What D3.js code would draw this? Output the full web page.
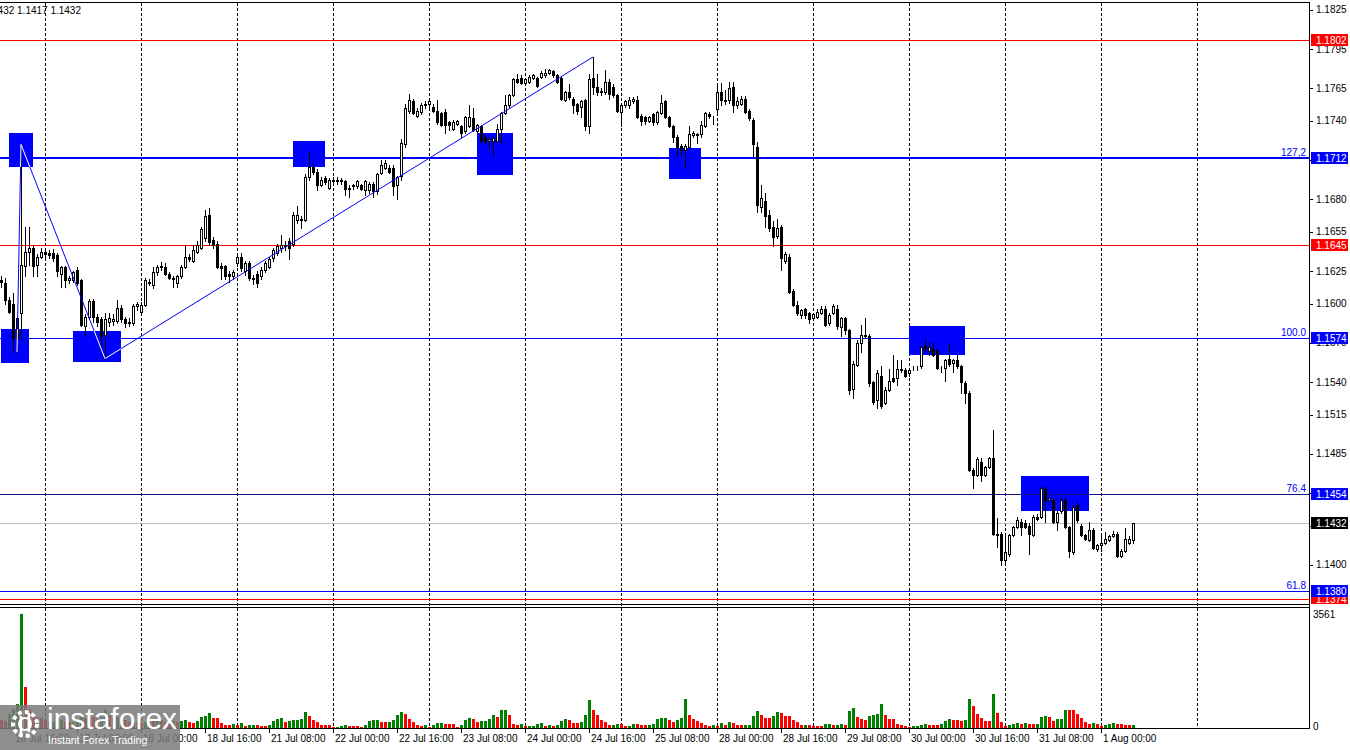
<!DOCTYPE html>
<html><head><meta charset="utf-8">
<script src="https://cdn.jsdelivr.net/npm/d3@7/dist/d3.min.js"></script>
<style>
html,body{margin:0;padding:0;background:#fff;}
svg{display:block;font-family:"Liberation Sans Narrow","Liberation Sans",Arial,sans-serif;}
</style></head><body>
<svg id="chart" width="1350" height="750"></svg>
<script>
// ---------- DATA ----------
// H1 sessions shown; the first session starts at 13:00
const sessionDays = ["16 Jul","17 Jul","18 Jul","21 Jul","22 Jul","23 Jul","24 Jul","25 Jul","28 Jul","29 Jul","30 Jul","31 Jul","1 Aug","4 Aug"];
const firstHour = 13;
// candles: [open, high, low, close, tick volume]
const jul16 = [
[1.1618,1.1621,1.1613,1.1617,250],[1.1616,1.1620,1.1600,1.1603,230],[1.1603,1.1605,1.1593,1.1594,450],
[1.1600,1.1608,1.1563,1.1574,600],[1.1589,1.1590,1.1563,1.1574,750],[1.1593,1.1722,1.1572,1.1630,3561],
[1.1629,1.1659,1.1621,1.1640,1290],[1.1640,1.1659,1.1630,1.1643,600],[1.1643,1.1645,1.1621,1.1629,450],
[1.1630,1.1638,1.1621,1.1636,350],[1.1636,1.1643,1.1635,1.1640,300]];
const jul17 = [
[1.1640,1.1643,1.1636,1.1638,250],[1.1639,1.1641,1.1635,1.1637,180],[1.1639,1.1642,1.1633,1.1635,200],
[1.1637,1.1639,1.1621,1.1625,230],[1.1623,1.1629,1.1613,1.1628,260],[1.1628,1.1629,1.1613,1.1618,200],
[1.1618,1.1621,1.1616,1.1620,180],[1.1618,1.1625,1.1617,1.1624,200],[1.1626,1.1628,1.1614,1.1616,250],
[1.1618,1.1619,1.1583,1.1584,420],[1.1583,1.1592,1.1575,1.1590,300],[1.1590,1.1604,1.1588,1.1602,350],
[1.1602,1.1604,1.1586,1.1590,330],[1.1590,1.1592,1.1583,1.1586,280],[1.1588,1.1590,1.1565,1.1575,350],
[1.1576,1.1593,1.1558,1.1588,560],[1.1586,1.1593,1.1583,1.1589,400],[1.1587,1.1592,1.1584,1.1588,300],
[1.1587,1.1603,1.1585,1.1597,350],[1.1597,1.1599,1.1586,1.1588,300],[1.1588,1.1590,1.1582,1.1585,250],
[1.1585,1.1589,1.1583,1.1586,200],[1.1585,1.1600,1.1584,1.1598,230],[1.1598,1.1601,1.1595,1.1600,180]];
const jul18 = [
[1.1594,1.1601,1.1593,1.1599,150],[1.1599,1.1620,1.1598,1.1618,200],[1.1617,1.1619,1.1614,1.1616,250],
[1.1614,1.1628,1.1612,1.1624,230],[1.1624,1.1630,1.1622,1.1628,280],[1.1628,1.1632,1.1626,1.1629,250],
[1.1628,1.1631,1.1622,1.1623,200],[1.1623,1.1624,1.1619,1.1620,150],[1.1620,1.1621,1.1613,1.1619,220],
[1.1616,1.1622,1.1613,1.1621,200],[1.1621,1.1630,1.1620,1.1628,230],[1.1628,1.1645,1.1627,1.1636,250],
[1.1636,1.1638,1.1633,1.1634,177],[1.1633,1.1645,1.1632,1.1641,146],[1.1640,1.1648,1.1639,1.1645,229],
[1.1643,1.1659,1.1642,1.1657,333],[1.1650,1.1672,1.1648,1.1667,375],[1.1668,1.1673,1.1645,1.1647,479],
[1.1649,1.1651,1.1643,1.1645,320],[1.1646,1.1648,1.1627,1.1628,300],[1.1629,1.1631,1.1619,1.1627,160],
[1.1629,1.1630,1.1619,1.1621,100],[1.1623,1.1625,1.1617,1.1621,95],[1.1621,1.1626,1.1619,1.1624,110]];
const jul21 = [
[1.1631,1.1638,1.1629,1.1636,80],[1.1636,1.1639,1.1625,1.1627,160],[1.1625,1.1633,1.1622,1.1631,73],
[1.1631,1.1633,1.1618,1.1620,94],[1.1620,1.1622,1.1615,1.1619,96],[1.1623,1.1625,1.1613,1.1616,90],
[1.1621,1.1628,1.1619,1.1626,62],[1.1626,1.1633,1.1624,1.1631,60],[1.1628,1.1636,1.1627,1.1634,94],
[1.1635,1.1643,1.1633,1.1641,229],[1.1639,1.1646,1.1637,1.1644,281],[1.1643,1.1653,1.1640,1.1645,300],
[1.1644,1.1648,1.1641,1.1645,177],[1.1648,1.1650,1.1634,1.1643,229],[1.1646,1.1670,1.1644,1.1668,250],
[1.1664,1.1675,1.1662,1.1668,255],[1.1665,1.1667,1.1658,1.1664,281],[1.1664,1.1699,1.1663,1.1697,500],
[1.1697,1.1717,1.1695,1.1705,364],[1.1705,1.1707,1.1699,1.1701,250],[1.1701,1.1703,1.1687,1.1691,177],
[1.1691,1.1697,1.1690,1.1695,94],[1.1696,1.1698,1.1692,1.1693,90],[1.1689,1.1696,1.1688,1.1695,85]];
const jul22 = [
[1.1695,1.1697,1.1692,1.1694,42],[1.1694,1.1697,1.1692,1.1695,45],[1.1694,1.1696,1.1692,1.1695,73],
[1.1694,1.1695,1.1683,1.1688,94],[1.1688,1.1691,1.1682,1.1689,73],[1.1691,1.1692,1.1688,1.1690,70],
[1.1690,1.1695,1.1689,1.1694,62],[1.1691,1.1692,1.1687,1.1688,16],[1.1687,1.1695,1.1683,1.1694,94],
[1.1687,1.1693,1.1685,1.1692,229],[1.1692,1.1693,1.1682,1.1686,235],[1.1686,1.1700,1.1684,1.1699,250],
[1.1700,1.1710,1.1699,1.1706,198],[1.1704,1.1710,1.1703,1.1708,195],[1.1704,1.1706,1.1700,1.1701,200],
[1.1704,1.1706,1.1683,1.1690,250],[1.1691,1.1698,1.1680,1.1697,406],[1.1698,1.1726,1.1695,1.1723,500],
[1.1722,1.1753,1.1720,1.1750,437],[1.1748,1.1761,1.1746,1.1756,281],[1.1755,1.1757,1.1745,1.1746,177],
[1.1744,1.1750,1.1743,1.1748,94],[1.1747,1.1754,1.1745,1.1752,73],[1.1752,1.1755,1.1750,1.1753,94]];
const jul23 = [
[1.1753,1.1756,1.1751,1.1755,42],[1.1751,1.1753,1.1747,1.1748,94],[1.1748,1.1756,1.1738,1.1739,146],
[1.1746,1.1747,1.1736,1.1737,150],[1.1747,1.1749,1.1731,1.1737,125],[1.1739,1.1740,1.1733,1.1737,120],
[1.1734,1.1741,1.1733,1.1739,115],[1.1738,1.1741,1.1737,1.1740,21],[1.1736,1.1737,1.1728,1.1731,94],
[1.1732,1.1744,1.1731,1.1743,250],[1.1736,1.1752,1.1735,1.1743,312],[1.1742,1.1750,1.1732,1.1733,281],
[1.1732,1.1738,1.1730,1.1737,198],[1.1736,1.1737,1.1724,1.1725,219],[1.1728,1.1729,1.1723,1.1725,225],
[1.1725,1.1727,1.1720,1.1726,281],[1.1725,1.1728,1.1713,1.1727,406],[1.1725,1.1738,1.1724,1.1734,333],
[1.1734,1.1747,1.1722,1.1746,562],[1.1746,1.1760,1.1745,1.1752,565],[1.1752,1.1761,1.1751,1.1760,406],
[1.1760,1.1773,1.1759,1.1772,125],[1.1772,1.1776,1.1769,1.1770,94],[1.1773,1.1775,1.1768,1.1769,125]];
const jul24 = [
[1.1769,1.1773,1.1768,1.1772,62],[1.1770,1.1775,1.1769,1.1774,64],[1.1773,1.1776,1.1772,1.1775,66],
[1.1773,1.1774,1.1766,1.1767,125],[1.1774,1.1778,1.1773,1.1777,156],[1.1775,1.1780,1.1774,1.1777,73],
[1.1777,1.1780,1.1776,1.1779,94],[1.1778,1.1779,1.1774,1.1775,73],[1.1775,1.1776,1.1769,1.1770,94],
[1.1773,1.1774,1.1756,1.1757,219],[1.1756,1.1763,1.1755,1.1762,281],[1.1762,1.1768,1.1757,1.1758,250],
[1.1757,1.1758,1.1746,1.1752,167],[1.1753,1.1754,1.1745,1.1748,160],[1.1751,1.1756,1.1743,1.1755,198],
[1.1756,1.1757,1.1733,1.1736,406],[1.1736,1.1776,1.1731,1.1772,875],[1.1773,1.1789,1.1761,1.1766,562],
[1.1766,1.1776,1.1760,1.1762,406],[1.1763,1.1765,1.1760,1.1762,250],[1.1762,1.1779,1.1761,1.1770,177],
[1.1770,1.1772,1.1757,1.1761,94],[1.1766,1.1768,1.1758,1.1760,96],[1.1760,1.1761,1.1747,1.1748,125]];
const jul25 = [
[1.1747,1.1753,1.1736,1.1752,120],[1.1752,1.1756,1.1751,1.1755,62],[1.1752,1.1758,1.1750,1.1756,73],
[1.1755,1.1758,1.1754,1.1757,125],[1.1756,1.1759,1.1742,1.1743,120],[1.1744,1.1745,1.1737,1.1740,94],
[1.1743,1.1744,1.1738,1.1740,90],[1.1740,1.1744,1.1739,1.1743,94],[1.1745,1.1746,1.1737,1.1739,125],
[1.1739,1.1748,1.1738,1.1747,281],[1.1746,1.1760,1.1745,1.1754,312],[1.1755,1.1756,1.1742,1.1743,315],
[1.1743,1.1744,1.1735,1.1736,250],[1.1736,1.1737,1.1724,1.1728,198],[1.1728,1.1729,1.1713,1.1720,250],
[1.1721,1.1722,1.1713,1.1718,312],[1.1718,1.1722,1.1704,1.1721,906],[1.1720,1.1736,1.1719,1.1730,406],
[1.1729,1.1732,1.1728,1.1731,281],[1.1730,1.1731,1.1723,1.1729,219],[1.1730,1.1740,1.1728,1.1737,146],
[1.1736,1.1747,1.1735,1.1746,94],[1.1745,1.1747,1.1742,1.1744,62],[1.1743,1.1744,1.1738,1.1743,94]];
const jul28 = [
[1.1749,1.1768,1.1747,1.1762,73],[1.1762,1.1769,1.1752,1.1756,146],[1.1756,1.1764,1.1753,1.1755,94],
[1.1756,1.1770,1.1754,1.1765,177],[1.1766,1.1770,1.1747,1.1752,156],[1.1752,1.1758,1.1750,1.1755,94],
[1.1753,1.1759,1.1752,1.1757,90],[1.1757,1.1759,1.1746,1.1747,94],[1.1748,1.1749,1.1741,1.1742,96],
[1.1741,1.1742,1.1713,1.1722,375],[1.1720,1.1724,1.1670,1.1676,531],[1.1674,1.1691,1.1670,1.1681,406],
[1.1679,1.1685,1.1659,1.1667,312],[1.1668,1.1672,1.1656,1.1658,310],[1.1659,1.1663,1.1644,1.1651,375],
[1.1652,1.1665,1.1650,1.1658,489],[1.1659,1.1660,1.1626,1.1635,458],[1.1633,1.1640,1.1631,1.1638,390],
[1.1636,1.1638,1.1608,1.1609,385],[1.1610,1.1611,1.1598,1.1599,250],[1.1599,1.1602,1.1591,1.1593,177],
[1.1591,1.1596,1.1589,1.1595,94],[1.1596,1.1597,1.1589,1.1591,96],[1.1593,1.1594,1.1585,1.1588,94]];
const jul29 = [
[1.1589,1.1593,1.1588,1.1592,70],[1.1590,1.1596,1.1589,1.1594,62],[1.1593,1.1598,1.1592,1.1596,60],
[1.1596,1.1598,1.1583,1.1584,125],[1.1585,1.1593,1.1584,1.1591,130],[1.1593,1.1600,1.1592,1.1598,94],
[1.1596,1.1599,1.1581,1.1583,96],[1.1582,1.1590,1.1575,1.1589,125],[1.1589,1.1590,1.1577,1.1580,94],
[1.1580,1.1581,1.1531,1.1534,531],[1.1535,1.1556,1.1528,1.1554,625],[1.1553,1.1572,1.1552,1.1570,354],
[1.1570,1.1584,1.1563,1.1576,281],[1.1576,1.1589,1.1574,1.1575,250],[1.1575,1.1577,1.1537,1.1539,375],
[1.1540,1.1541,1.1523,1.1525,406],[1.1526,1.1549,1.1520,1.1547,437],[1.1545,1.1552,1.1520,1.1522,750],
[1.1524,1.1536,1.1523,1.1534,406],[1.1534,1.1550,1.1533,1.1541,281],[1.1543,1.1561,1.1540,1.1541,280],
[1.1543,1.1557,1.1538,1.1550,115],[1.1550,1.1557,1.1548,1.1549,94],[1.1549,1.1551,1.1544,1.1545,62]];
const jul30 = [
[1.1547,1.1551,1.1545,1.1549,21],[1.1551,1.1552,1.1549,1.1551,62],[1.1551,1.1552,1.1549,1.1551,64],
[1.1552,1.1568,1.1551,1.1567,94],[1.1568,1.1573,1.1564,1.1565,125],[1.1564,1.1570,1.1561,1.1567,94],
[1.1565,1.1570,1.1560,1.1561,92],[1.1564,1.1566,1.1550,1.1551,90],[1.1551,1.1552,1.1548,1.1551,125],
[1.1551,1.1558,1.1541,1.1557,219],[1.1558,1.1569,1.1552,1.1554,281],[1.1555,1.1558,1.1548,1.1557,250],
[1.1557,1.1561,1.1551,1.1552,248],[1.1552,1.1553,1.1532,1.1540,219],[1.1539,1.1541,1.1524,1.1532,250],
[1.1532,1.1533,1.1472,1.1473,906],[1.1473,1.1474,1.1459,1.1469,687],[1.1469,1.1483,1.1468,1.1481,437],
[1.1479,1.1482,1.1464,1.1469,312],[1.1469,1.1476,1.1468,1.1475,219],[1.1475,1.1483,1.1474,1.1482,215],
[1.1482,1.1503,1.1423,1.1424,1062],[1.1424,1.1436,1.1414,1.1423,469],[1.1424,1.1425,1.1400,1.1404,177]];
const jul31 = [
[1.1404,1.1424,1.1401,1.1410,62],[1.1408,1.1424,1.1407,1.1423,94],[1.1423,1.1430,1.1422,1.1429,115],
[1.1429,1.1437,1.1428,1.1434,146],[1.1433,1.1435,1.1423,1.1429,125],[1.1432,1.1434,1.1428,1.1429,146],
[1.1430,1.1432,1.1408,1.1424,125],[1.1423,1.1438,1.1422,1.1437,120],[1.1437,1.1439,1.1434,1.1435,125],
[1.1437,1.1460,1.1436,1.1459,354],[1.1458,1.1460,1.1433,1.1450,375],[1.1450,1.1451,1.1449,1.1451,333],
[1.1450,1.1451,1.1432,1.1433,219],[1.1433,1.1441,1.1427,1.1440,281],[1.1441,1.1451,1.1440,1.1450,285],
[1.1450,1.1451,1.1428,1.1429,562],[1.1429,1.1430,1.1406,1.1411,560],[1.1410,1.1446,1.1408,1.1444,558],
[1.1446,1.1448,1.1433,1.1434,437],[1.1430,1.1431,1.1422,1.1423,302],[1.1423,1.1424,1.1419,1.1420,188],
[1.1419,1.1433,1.1418,1.1427,125],[1.1427,1.1428,1.1412,1.1413,146],[1.1412,1.1416,1.1411,1.1415,115]];
const aug01 = [
[1.1415,1.1422,1.1411,1.1417,62],[1.1417,1.1425,1.1416,1.1420,94],[1.1419,1.1423,1.1418,1.1422,125],
[1.1422,1.1426,1.1421,1.1424,146],[1.1424,1.1425,1.1406,1.1407,140],[1.1407,1.1412,1.1406,1.1411,125],
[1.1411,1.1428,1.1410,1.1420,94],[1.1417,1.1422,1.1416,1.1420,92],[1.1419,1.1432,1.1417,1.1432,94]];

const priceTicks = [1.1825,1.1795,1.1765,1.1740,1.1710,1.1680,1.1655,1.1625,1.1600,1.1570,1.1540,1.1515,1.1485,1.1455,1.1430,1.1400];
// horizontal levels
const levelPrices = [1.1802,1.1712,1.1645,1.1574,1.1454,1.1432,1.1380,1.1374];
const levelColors = ["#ff0000","#0000ff","#ff0000","#0000ff","#10108a","#c0c0c0","#0000ff","#ff0000"];
const levelWidths = [1,2,1,1,1,1,1,1];
const tagColors   = ["#ff0000","#0000ff","#ff0000","#0000ff","#0000ff","#000000","#0000ff","#ff0000"];
const fibPrices = [1.1712,1.1574,1.1454,1.1380];
const fibTexts  = ["127,2","100.0","76.4","61.8"];
// marker boxes: [first bar, last bar, top price, bottom price]
const zones = [[2,8,1.1731,1.1705],[0,7,1.1581,1.1555],[18,30,1.1579,1.1555],[73,81,1.1725,1.1705],
  [119,128,1.1731,1.1699],[167,175,1.1719,1.1695],[227,241,1.1583,1.1561],[255,272,1.1468,1.1441]];
// zigzag: [bar, price]
const zigzag = [[4,1.1563],[5,1.1722],[26,1.1558],[148,1.1789]];

// ---------- BUILD ----------
const sessions = [jul16,jul17,jul18,jul21,jul22,jul23,jul24,jul25,jul28,jul29,jul30,jul31,aug01];
const slots = [];
sessionDays.forEach((d, di) => { for (let h = (di === 0 ? firstHour : 0); h < 24; h++) slots.push({day:d, hour:h}); });
const candles = sessions.flat().map((c,i)=>({i, o:c[0], h:c[1], l:c[2], c:c[3], v:c[4], slot:slots[i]}));
candles.forEach((d,i)=>{ d.up = i === 0 ? false : d.v > candles[i-1].v; });

const plotRight = 1309, mainTop = 3, mainBottom = 604, volTop = 607, volBottom = 728;
const lastSlot = 327;
const x = d3.scaleLinear().domain([0,lastSlot]).range([1,plotRight]);
const y = d3.scaleLinear().domain([1.1380,1.1802]).range([591,40]);
const vmax = d3.max(candles, d=>d.v);
const yv = d3.scaleLinear().domain([0,vmax]).range([volBottom,614]);
const px = v => Math.round(v) + 0.5;

const svg = d3.select("#chart");
const defs = svg.append("defs");
defs.append("clipPath").attr("id","cm").append("rect").attr("x",0).attr("y",mainTop).attr("width",plotRight).attr("height",mainBottom-mainTop);
defs.append("clipPath").attr("id","cv").append("rect").attr("x",0).attr("y",volTop).attr("width",plotRight).attr("height",volBottom-volTop);
defs.append("clipPath").attr("id","ct").append("rect").attr("x",plotRight).attr("y",mainTop).attr("width",50).attr("height",mainBottom-mainTop);
const zoneRect = z => ({x:Math.round(x(z[0])), w:Math.round(x(z[1])-x(z[0])), y:Math.round(y(z[2])), h:Math.round(y(z[3])-y(z[2]))});
defs.append("clipPath").attr("id","cz").selectAll("rect").data(zones).join("rect")
  .attr("x",d=>zoneRect(d).x).attr("y",d=>zoneRect(d).y).attr("width",d=>zoneRect(d).w).attr("height",d=>zoneRect(d).h);
svg.append("rect").attr("width",1350).attr("height",750).attr("fill","#fff");

// grid (day boundaries)
const gridSlots = slots.map((s,i)=>({s,i})).filter(d=>d.s.hour===0 && d.i<=lastSlot);
svg.append("g").selectAll("line").data(gridSlots).join("line")
  .attr("x1",d=>px(x(d.i))).attr("x2",d=>px(x(d.i))).attr("y1",mainTop).attr("y2",volBottom)
  .attr("stroke","#000").attr("stroke-dasharray","3,2").attr("shape-rendering","crispEdges");

const main = svg.append("g").attr("clip-path","url(#cm)");
// zones
main.append("g").selectAll("rect").data(zones).join("rect")
  .attr("x",d=>zoneRect(d).x).attr("width",d=>zoneRect(d).w)
  .attr("y",d=>zoneRect(d).y).attr("height",d=>zoneRect(d).h)
  .attr("fill","#0000ff");
// levels
main.append("g").selectAll("line").data(levelPrices).join("line")
  .attr("x1",0).attr("x2",plotRight)
  .attr("y1",(d,i)=>levelWidths[i]===2?Math.round(y(d)):px(y(d))).attr("y2",(d,i)=>levelWidths[i]===2?Math.round(y(d)):px(y(d)))
  .attr("stroke",(d,i)=>levelColors[i]).attr("stroke-width",(d,i)=>levelWidths[i]).attr("shape-rendering","crispEdges");
// candles
const cg = main.append("g").attr("shape-rendering","crispEdges");
cg.selectAll("line.w").data(candles).join("line").attr("class","w")
  .attr("x1",d=>px(x(d.i))).attr("x2",d=>px(x(d.i)))
  .attr("y1",d=>Math.round(y(d.h))).attr("y2",d=>Math.round(y(d.l))+1)
  .attr("stroke","#000");
cg.selectAll("rect.b").data(candles).join("rect").attr("class","b")
  .attr("x",d=>px(x(d.i))-1).attr("width",2)
  .attr("y",d=>px(y(Math.max(d.o,d.c))))
  .attr("height",d=>Math.max(0,Math.round(y(Math.min(d.o,d.c)))-Math.round(y(Math.max(d.o,d.c)))))
  .attr("fill",d=>d.c>=d.o?"#fff":"#000").attr("stroke","#000");
// zigzag (blue on white, white where it crosses the marker boxes)
const zz = d3.line().x(d=>x(d[0])).y(d=>y(d[1]));
main.append("path").datum(zigzag).attr("d",zz)
  .attr("fill","none").attr("stroke","#0000ff").attr("stroke-width",1);
main.append("g").attr("clip-path","url(#cz)").append("path").datum(zigzag).attr("d",zz)
  .attr("fill","none").attr("stroke","#ffffff").attr("stroke-width",1);
// fib labels
svg.append("g").selectAll("text").data(fibPrices).join("text")
  .attr("x",1306).attr("y",d=>y(d)-2).attr("text-anchor","end")
  .attr("font-size",10).attr("fill","#0000ff").text((d,i)=>fibTexts[i]);

// volumes
svg.append("g").attr("clip-path","url(#cv)").attr("shape-rendering","crispEdges")
  .selectAll("rect").data(candles).join("rect")
  .attr("x",d=>Math.round(x(d.i))-1).attr("width",3)
  .attr("y",d=>Math.round(yv(d.v))).attr("height",d=>volBottom-Math.round(yv(d.v)))
  .attr("fill",d=>d.up?"#008000":"#ff0000");

// frames
const fr = svg.append("g").attr("stroke","#000").attr("shape-rendering","crispEdges");
fr.append("line").attr("x1",0).attr("x2",plotRight).attr("y1",2.5).attr("y2",2.5);
fr.append("line").attr("x1",0).attr("x2",plotRight).attr("y1",mainBottom+0.5).attr("y2",mainBottom+0.5);
fr.append("line").attr("x1",0).attr("x2",plotRight).attr("y1",volTop+0.5).attr("y2",volTop+0.5);
fr.append("line").attr("x1",0).attr("x2",plotRight+1).attr("y1",volBottom+0.5).attr("y2",volBottom+0.5);
fr.append("line").attr("x1",plotRight+0.5).attr("x2",plotRight+0.5).attr("y1",2).attr("y2",volBottom+1);

// price axis
const ax = svg.append("g").attr("font-size",10).attr("fill","#000");
ax.selectAll("line").data(priceTicks).join("line")
  .attr("x1",plotRight).attr("x2",plotRight+4).attr("y1",d=>px(y(d))).attr("y2",d=>px(y(d)))
  .attr("stroke","#000").attr("shape-rendering","crispEdges");
ax.selectAll("text").data(priceTicks).join("text")
  .attr("x",plotRight+7).attr("y",d=>y(d)+3.5).text(d=>d.toFixed(4));
// volume axis
const vt = [vmax, 0];
svg.append("g").attr("font-size",10).selectAll("text").data(vt).join("text")
  .attr("x",plotRight+4).attr("y",d=>yv(d)+4 - (d===0?2:0)).text(d=>d);

// price tags
const tg = svg.append("g").attr("clip-path","url(#ct)");
const tagOrder = [7,0,1,2,3,4,5,6];
tagOrder.forEach(k=>{
  const p = levelPrices[k], yy = Math.round(y(p));
  tg.append("rect").attr("x",plotRight+2).attr("y",yy-6).attr("width",37).attr("height",12).attr("fill",tagColors[k]);
  tg.append("text").attr("x",plotRight+7).attr("y",yy+4).attr("font-size",10).attr("fill","#fff").text(p.toFixed(4));
});

// time axis
const timeLabels = candles.filter(d=>(d.i-3)%16===0 && d.i>=3);
const ta = svg.append("g");
ta.selectAll("line").data(timeLabels).join("line")
  .attr("x1",d=>px(x(d.i))).attr("x2",d=>px(x(d.i))).attr("y1",volBottom+1).attr("y2",volBottom+5)
  .attr("stroke","#000").attr("shape-rendering","crispEdges");
ta.selectAll("text").data(timeLabels).join("text")
  .attr("x",d=>x(d.i)+2).attr("y",742).attr("font-size",10)
  .text(d=>`${d.slot.day} ${String(d.slot.hour).padStart(2,"0")}:00`);

// header (last bar OHLC)
const last = candles[candles.length-1];
svg.append("text").attr("x",81).attr("y",14).attr("text-anchor","end").attr("font-size",10)
  .text(`EURUSD,H1  ${last.o.toFixed(4)} ${last.h.toFixed(4)} ${last.l.toFixed(4)} ${last.c.toFixed(4)}`);

// watermark
const wm = svg.append("g");
wm.append("rect").attr("x",0).attr("y",705).attr("width",180).attr("height",45).attr("fill","#7a7a7a").attr("opacity",0.85);
const ic = wm.append("g").attr("fill","none").attr("stroke","#fff");
ic.append("circle").attr("cx",25).attr("cy",724).attr("r",12).attr("stroke-width",4).attr("stroke-dasharray","4,3");
ic.append("circle").attr("cx",25).attr("cy",724).attr("r",6).attr("stroke-width",2);
ic.append("line").attr("x1",21).attr("x2",21).attr("y1",716).attr("y2",735).attr("stroke-width",2.5);
ic.append("line").attr("x1",29).attr("x2",29).attr("y1",713).attr("y2",732).attr("stroke-width",2.5);
wm.append("text").attr("x",47).attr("y",729).attr("font-family","Liberation Sans, Arial, sans-serif").attr("font-size",30).attr("fill","#fff").text("instaforex");
wm.append("text").attr("x",48).attr("y",744).attr("font-family","Liberation Sans, Arial, sans-serif").attr("font-size",10.5).attr("fill","#fff").text("Instant Forex Trading");
</script>
</body></html>
